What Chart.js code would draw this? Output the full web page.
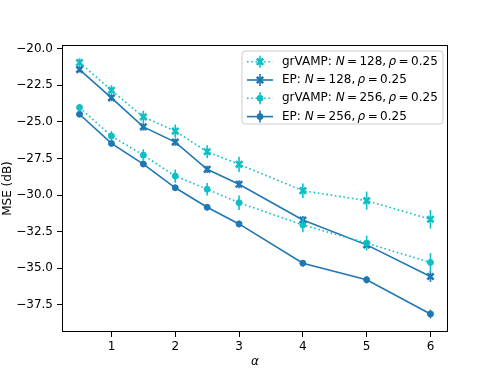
<!DOCTYPE html>
<html><head><meta charset="utf-8">
<script src="https://cdn.jsdelivr.net/npm/chart.js@4/dist/chart.umd.min.js"></script>
<style>html,body{margin:0;padding:0;background:#fff}canvas{display:block}</style>
</head><body>
<div style="width:498px;height:374px"><canvas id="c" width="498" height="374"></canvas></div>
<script>
// ---- data ----
const alphaValues = [0.5, 1, 1.5, 2, 2.5, 3, 4, 5, 6];
const grvamp128 = [-20.95, -22.84, -24.66, -25.63, -27.04, -27.90, -29.70, -30.38, -31.65];
const grvamp128Err = [0.30, 0.34, 0.42, 0.45, 0.45, 0.52, 0.50, 0.62, 0.64];
const ep128 = [-21.43, -23.36, -25.34, -26.38, -28.24, -29.26, -31.70, -33.40, -35.56];
const ep128Err = [0.20, 0.22, 0.25, 0.25, 0.25, 0.28, 0.27, 0.22, 0.37];
const grvamp256 = [-24.02, -25.97, -27.27, -28.70, -29.60, -30.52, -32.04, -33.28, -34.60];
const grvamp256Err = [0.25, 0.34, 0.40, 0.45, 0.43, 0.50, 0.49, 0.51, 0.64];
const ep256 = [-24.48, -26.47, -27.88, -29.50, -30.83, -31.97, -34.65, -35.78, -38.12];
const ep256Err = [0.15, 0.18, 0.18, 0.20, 0.20, 0.22, 0.22, 0.25, 0.30];
const seriesLabels = ['grVAMP: N = 128, ρ = 0.25', 'EP: N = 128, ρ = 0.25', 'grVAMP: N = 256, ρ = 0.25', 'EP: N = 256, ρ = 0.25'];
const xTicks = [1, 2, 3, 4, 5, 6];
const yTicks = [-20, -22.5, -25, -27.5, -30, -32.5, -35, -37.5];

const CYAN = '#0fbfc6', BLUE = '#1f77b4';
const FONT = 'DejaVu Sans';

function pts(ys) { return alphaValues.map((x, i) => ({ x: x, y: ys[i] })); }

function mkDs(label, ys, errs, color, dashed, style, order) {
  const cross = style === 'crossRot';
  return {
    label: label, data: pts(ys), errors: errs, order: order,
    borderColor: color, backgroundColor: color,
    borderWidth: 1.6, borderDash: dashed ? [1.6, 2.7] : [],
    fill: false, tension: 0,
    pointStyle: style, pointRadius: cross ? 4.5 : 3, pointBorderWidth: cross ? 2.6 : 1,
    pointBackgroundColor: color, pointBorderColor: color, pointHoverRadius: cross ? 4.5 : 3
  };
}

const datasets = [
  mkDs(seriesLabels[0], grvamp128, grvamp128Err, CYAN, true, 'crossRot', 3),
  mkDs(seriesLabels[1], ep128, ep128Err, BLUE, false, 'crossRot', 2),
  mkDs(seriesLabels[2], grvamp256, grvamp256Err, CYAN, true, 'circle', 1),
  mkDs(seriesLabels[3], ep256, ep256Err, BLUE, false, 'circle', 0)
];

function drawMarker(ctx, style, x, y, color) {
  ctx.save();
  ctx.fillStyle = color; ctx.strokeStyle = color; ctx.setLineDash([]);
  if (style === 'crossRot') {
    const d = 4.5 * Math.SQRT1_2;
    ctx.lineWidth = 2.6;
    ctx.beginPath();
    ctx.moveTo(x - d, y - d); ctx.lineTo(x + d, y + d);
    ctx.moveTo(x - d, y + d); ctx.lineTo(x + d, y - d);
    ctx.stroke();
  } else {
    ctx.lineWidth = 1;
    ctx.beginPath(); ctx.arc(x, y, 3, 0, Math.PI * 2); ctx.fill(); ctx.stroke();
  }
  ctx.restore();
}

const extras = {
  id: 'extras',
  afterDatasetsDraw(chart) {
    const ctx = chart.ctx, xs = chart.scales.x, ys = chart.scales.y;
    chart.data.datasets.forEach(ds => {
      ctx.save();
      ctx.strokeStyle = ds.borderColor; ctx.lineWidth = 1.6; ctx.setLineDash([]);
      ds.data.forEach((p, j) => {
        const x = xs.getPixelForValue(p.x);
        ctx.beginPath();
        ctx.moveTo(x, ys.getPixelForValue(p.y - ds.errors[j]));
        ctx.lineTo(x, ys.getPixelForValue(p.y + ds.errors[j]));
        ctx.stroke();
      });
      ctx.restore();
    });
  },
  afterDraw(chart) {
    const ctx = chart.ctx, ca = chart.chartArea;
    // frame
    ctx.save();
    ctx.strokeStyle = '#000'; ctx.lineWidth = 1;
    ctx.strokeRect(Math.round(ca.left) + 0.5, Math.round(ca.top) + 0.5,
                   Math.round(ca.right - ca.left) - 1, Math.round(ca.bottom - ca.top) - 1);
    ctx.restore();
    // legend
    const bx = 242, by = 51, bw = 201, bh = 73, r = 3;
    ctx.save();
    ctx.beginPath();
    ctx.moveTo(bx + r, by); ctx.lineTo(bx + bw - r, by); ctx.quadraticCurveTo(bx + bw, by, bx + bw, by + r);
    ctx.lineTo(bx + bw, by + bh - r); ctx.quadraticCurveTo(bx + bw, by + bh, bx + bw - r, by + bh);
    ctx.lineTo(bx + r, by + bh); ctx.quadraticCurveTo(bx, by + bh, bx, by + bh - r);
    ctx.lineTo(bx, by + r); ctx.quadraticCurveTo(bx, by, bx + r, by);
    ctx.closePath();
    ctx.fillStyle = 'rgba(255,255,255,0.8)'; ctx.fill();
    ctx.strokeStyle = '#cccccc'; ctx.lineWidth = 1; ctx.stroke();
    chart.data.datasets.forEach((ds, i) => {
      const y = 61.7 + i * 18.3;
      ctx.strokeStyle = ds.borderColor; ctx.lineWidth = 1.6;
      ctx.setLineDash(ds.borderDash);
      ctx.beginPath(); ctx.moveTo(247, y); ctx.lineTo(273, y); ctx.stroke();
      ctx.setLineDash([]);
      ctx.beginPath(); ctx.moveTo(260, y - 6); ctx.lineTo(260, y + 6); ctx.stroke();
      drawMarker(ctx, ds.pointStyle, 260, y, ds.borderColor);
      // text with italic N and rho, math-style tight spacing
      let x = 282, spaceCount = 0;
      ctx.fillStyle = '#000'; ctx.textBaseline = 'middle'; ctx.textAlign = 'left';
      ds.label.split(/(N|ρ| )/).forEach(part => {
        if (part === '') return;
        if (part === ' ') { x += spaceCount === 0 ? 3.8 : 2.4; spaceCount++; return; }
        ctx.font = (part === 'N' || part === 'ρ' ? 'italic ' : '') + '12px "' + FONT + '"';
        ctx.fillText(part, x, y);
        x += ctx.measureText(part).width;
      });
    });
    ctx.restore();
  }
};

const tickFont = { family: FONT, size: 12 };
new Chart(document.getElementById('c'), {
  type: 'line',
  data: { datasets: datasets },
  plugins: [extras],
  options: {
    responsive: false, animation: false, events: [],
    layout: { padding: { top: 45, right: 50, left: 0, bottom: 0 } },
    plugins: { legend: { display: false }, tooltip: { enabled: false } },
    scales: {
      x: {
        type: 'linear', min: 0.225, max: 6.275,
        afterBuildTicks: s => { s.ticks = xTicks.map(v => ({ value: v })); },
        afterFit: s => { s.height = 42; },
        ticks: { font: tickFont, color: '#000', padding: 3, maxRotation: 0, callback: v => String(v) },
        grid: { drawOnChartArea: false, drawTicks: true, tickLength: 5, color: '#000', tickWidth: 1 },
        border: { display: false },
        title: { display: true, text: 'α', font: { family: FONT, size: 12, style: 'italic' }, color: '#000', padding: { top: 0, bottom: 5 } }
      },
      y: {
        type: 'linear', min: -39.35, max: -19.75,
        afterBuildTicks: s => { s.ticks = yTicks.map(v => ({ value: v })); },
        afterFit: s => { s.width = 62; },
        ticks: { font: tickFont, color: '#000', padding: 4, callback: v => (v < 0 ? '\u2212' : '') + Math.abs(v).toFixed(1) },
        grid: { drawOnChartArea: false, drawTicks: true, tickLength: 5, color: '#000', tickWidth: 1 },
        border: { display: false },
        title: { display: true, text: 'MSE (dB)', font: { family: FONT, size: 12 }, color: '#000', padding: { top: 1, bottom: 0 } }
      }
    }
  }
});
</script>
</body></html>
